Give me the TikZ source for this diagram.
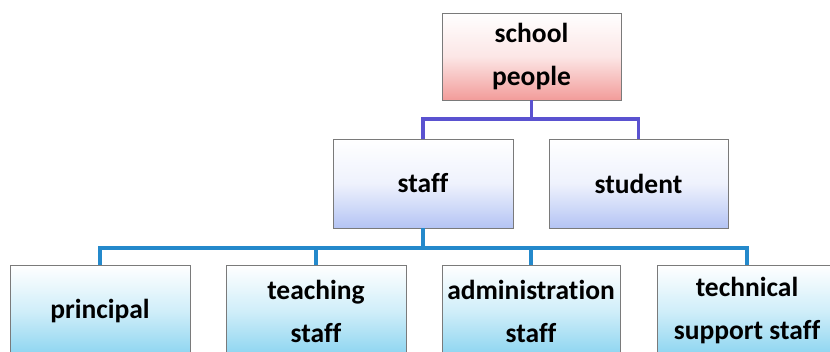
\documentclass[tikz,border=0pt]{standalone}
\usepackage{fontspec}
\setmainfont{Carlito}[Ligatures={NoCommon}]
\usetikzlibrary{shadows}

\definecolor{pinkfill}{HTML}{F29C9A}
\definecolor{lavfill}{HTML}{B4C4F4}
\definecolor{cyanfill}{HTML}{8AD4F0}
\definecolor{edgegray}{HTML}{7A7A7A}
\definecolor{linepurple}{HTML}{5A52D0}
\definecolor{lineblue}{HTML}{2489CB}

\tikzset{
  orgbox/.style={draw=edgegray, line width=0.9pt, rectangle, align=center,
    inner sep=0pt, font=\fontsize{27.5}{43}\selectfont\bfseries,
    drop shadow={shadow xshift=1.2pt, shadow yshift=-1.2pt, opacity=0.35, fill=black}},
  rootbox/.style={orgbox, top color=white, bottom color=pinkfill, middle color=pinkfill!25!white},
  midbox/.style={orgbox, top color=white, bottom color=lavfill, middle color=lavfill!22!white},
  leafbox/.style={orgbox, top color=white, bottom color=cyanfill, middle color=cyanfill!40!white},
  topwire/.style={draw=linepurple, line width=3.2pt},
  lowwire/.style={draw=lineblue, line width=3.2pt},
}

\begin{document}
\begin{tikzpicture}[x=1pt,y=-1pt]
  \useasboundingbox (0,0) rectangle (830,352);
  \clip (0,0) rectangle (830,352);
  \fill[white] (0,0) rectangle (830,352);

  % junction rows for the two levels of connectors
  \coordinate (j1) at (531.5,119);
  \coordinate (j2) at (423,248);

  % root
  \node[rootbox, minimum width=179pt, minimum height=87pt] (root) at (531.5,56.5) {school\\people};

  % second level
  \node[midbox, minimum width=180pt, minimum height=89pt] (staff) at (423,183.5) {staff};
  \node[midbox, minimum width=179pt, minimum height=89pt] (student) at (638.5,183.5) {student};

  % third level
  \node[leafbox, minimum width=180pt, minimum height=92pt] (principal) at (100,311) {principal};
  \node[leafbox, minimum width=180pt, minimum height=92pt] (teaching) at (316,311) {teaching\\staff};
  \node[leafbox, minimum width=178pt, minimum height=92pt] (admin) at (531,311) {administration\\staff};
  \node[leafbox, minimum width=180pt, minimum height=92pt] (technical) at (747,311) {technical\\support staff};

  % root to second level
  \draw[topwire] (root.south) -- (j1);
  \draw[topwire] (staff.north) -- (staff.north |- j1) -- (student.north |- j1) -- (student.north);

  % staff to third level
  \draw[lowwire] (staff.south) -- (j2);
  \draw[lowwire] (principal.north) -- (principal.north |- j2) -- (technical.north |- j2) -- (technical.north);
  \draw[lowwire] (teaching.north) -- (teaching.north |- j2);
  \draw[lowwire] (admin.north) -- (admin.north |- j2);
\end{tikzpicture}
\end{document}
